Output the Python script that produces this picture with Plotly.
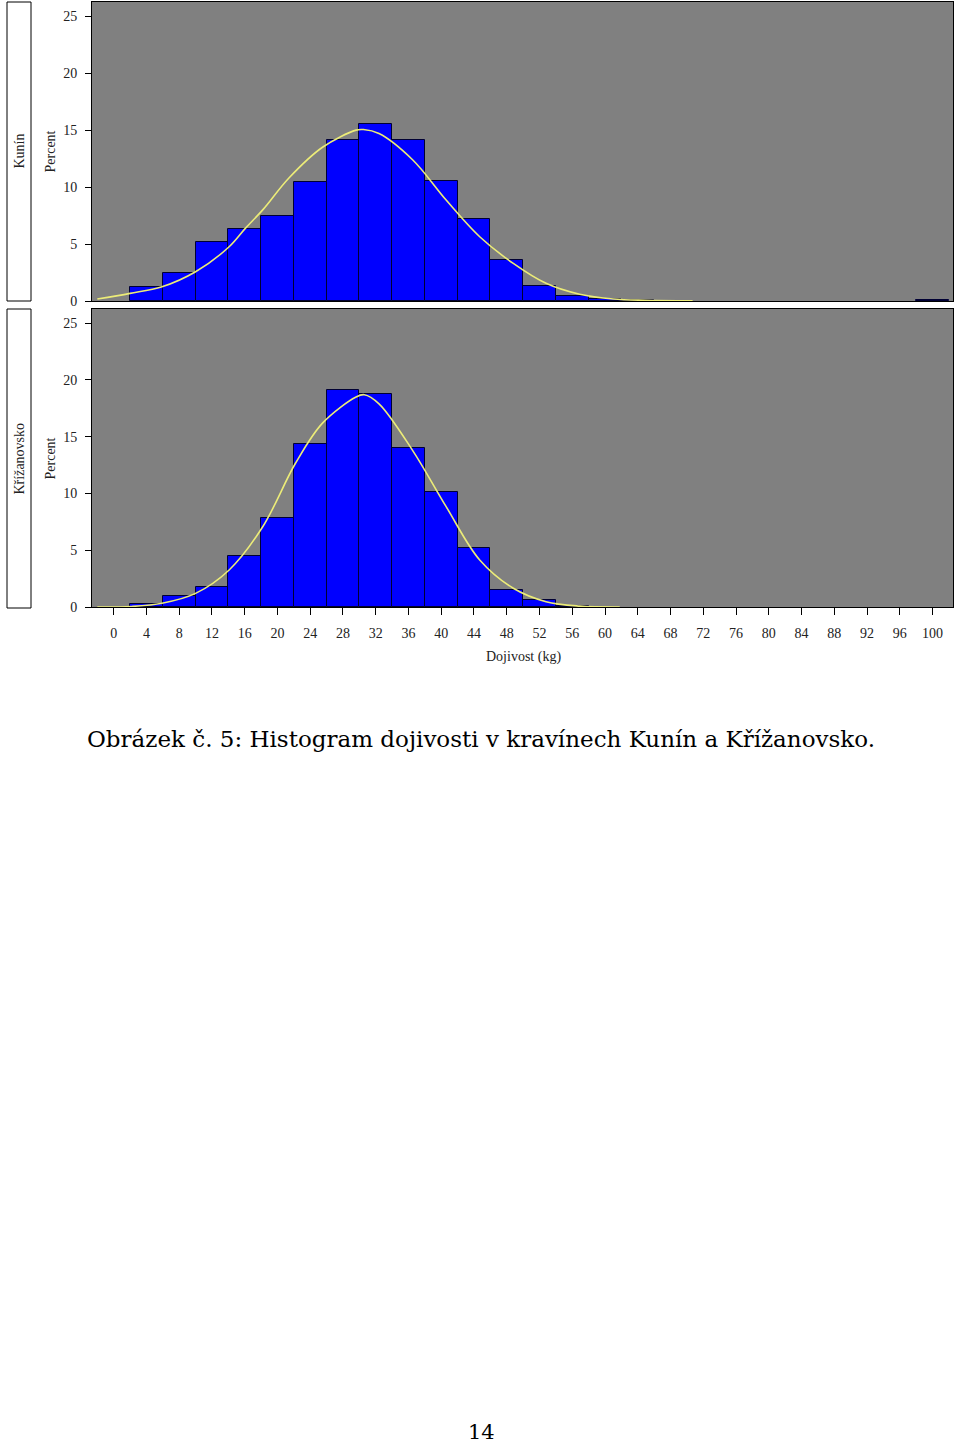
import plotly.graph_objects as go

# ---- data ----
bin_centers = [4, 8, 12, 16, 20, 24, 28, 32, 36, 40, 44, 48, 52, 56, 60, 64, 100]
kunin_pct = [1.2, 2.45, 5.2, 6.3, 7.45, 10.45, 14.1, 15.5, 14.1, 10.55, 7.2, 3.6, 1.35, 0.45, 0.2, 0.05, 0.1]

kriz_centers = [4, 8, 12, 16, 20, 24, 28, 32, 36, 40, 44, 48, 52, 56]
kriz_pct = [0.3, 1.0, 1.8, 4.45, 7.8, 14.35, 19.1, 18.8, 14.05, 10.1, 5.2, 1.5, 0.65, 0.05]

# fitted curves
kunin_curve_x = [-2.0, 2.0, 5.9, 10.0, 14.1, 16.1, 18.2, 21.4, 25.5, 29.6, 30.5, 32.4, 36.5, 40.6, 44.7, 48.8, 52.8, 56.9, 61.0, 65.0, 70.7]
kunin_curve_y = [0.17, 0.67, 1.25, 2.57, 4.76, 6.4, 8.0, 10.8, 13.5, 15.0, 15.05, 14.7, 12.4, 8.86, 5.64, 3.3, 1.55, 0.59, 0.17, 0.06, 0.02]

kriz_curve_x = [-2.0, 2.2, 5.9, 10.0, 14.1, 18.2, 22.2, 25.5, 29.6, 30.6, 32.4, 36.5, 40.6, 44.7, 48.8, 52.8, 56.9, 61.8]
kriz_curve_y = [0.0, 0.05, 0.33, 1.2, 3.26, 7.07, 12.66, 16.2, 18.5, 18.7, 17.9, 13.8, 8.84, 4.14, 1.65, 0.47, 0.08, 0.0]

x_ticks = list(range(0, 101, 4))
y_ticks = [0, 5, 10, 15, 20, 25]
strip_labels = ["Kunín", "Křížanovsko"]
x_title = "Dojivost (kg)"
y_title = "Percent"
caption = "Obrázek č. 5: Histogram dojivosti v kravínech Kunín a Křížanovsko."
page_no = "14"

W, H = 960, 1447
HS = 1439.0  # effective vertical scale observed in the rendered page
def py(pix):
    return 1 - pix / HS
def px(pix):
    return pix / W

serif = "Liberation Serif"
bar_color = "#0000ff"
bar_line = "#000033"
curve_color = "#ecec78"
bg = "#808080"
txt = "#222222"

fig = go.Figure()
fig.add_trace(go.Bar(x=bin_centers, y=kunin_pct, width=4, marker=dict(color=bar_color, line=dict(color=bar_line, width=1)),
                     xaxis="x", yaxis="y", showlegend=False))
fig.add_trace(go.Scatter(x=kunin_curve_x, y=kunin_curve_y, mode="lines", line=dict(color=curve_color, width=1.6, shape="spline"),
                         xaxis="x", yaxis="y", showlegend=False))
fig.add_trace(go.Bar(x=kriz_centers, y=kriz_pct, width=4, marker=dict(color=bar_color, line=dict(color=bar_line, width=1)),
                     xaxis="x2", yaxis="y2", showlegend=False))
fig.add_trace(go.Scatter(x=kriz_curve_x, y=kriz_curve_y, mode="lines", line=dict(color=curve_color, width=1.6, shape="spline"),
                         xaxis="x2", yaxis="y2", showlegend=False))

xdom = [px(92), px(953)]
xr = [-2.65, 102.5]
yr = [0, 26.25]
common_y = dict(range=yr, tickvals=y_ticks, ticks="outside", ticklen=6, tickcolor="black", ticklabelstandoff=5,
                showline=True, linecolor="black", linewidth=1, mirror=True, showgrid=False, zeroline=False,
                tickfont=dict(family=serif, size=14, color=txt), fixedrange=True)

fig.update_layout(
    width=W, height=H, margin=dict(l=0, r=0, t=0, b=0),
    paper_bgcolor="white", plot_bgcolor=bg, bargap=0,
    xaxis=dict(domain=xdom, range=xr, anchor="y", showticklabels=False, ticks="", showgrid=False, zeroline=False,
               showline=True, linecolor="black", linewidth=1, mirror=True),
    yaxis=dict(domain=[py(301), py(2)], anchor="x", **common_y),
    xaxis2=dict(domain=xdom, range=xr, anchor="y2", tickvals=x_ticks, ticks="outside", ticklen=7, tickcolor="black",
                ticklabelstandoff=6,
                showgrid=False, zeroline=False, showline=True, linecolor="black", linewidth=1, mirror=True,
                tickfont=dict(family=serif, size=14, color=txt)),
    yaxis2=dict(domain=[py(607), py(309)], anchor="x2", **common_y),
)

shapes = []
for (t, b) in [(2, 301), (309, 608)]:
    shapes.append(dict(type="rect", xref="paper", yref="paper", x0=px(7), x1=px(31), y0=py(b), y1=py(t),
                       line=dict(color="black", width=1), fillcolor="white"))
fig.update_layout(shapes=shapes)

ann = []
for lab, (t, b) in zip(strip_labels, [(2, 301), (309, 608)]):
    ann.append(dict(text=lab, xref="paper", yref="paper", x=px(19), y=py((t + b) / 2), showarrow=False,
                    textangle=-90, font=dict(family=serif, size=14, color=txt), xanchor="center", yanchor="middle"))
    ann.append(dict(text=y_title, xref="paper", yref="paper", x=px(50), y=py((t + b) / 2), showarrow=False,
                    textangle=-90, font=dict(family=serif, size=14, color=txt), xanchor="center", yanchor="middle"))
ann.append(dict(text=x_title, xref="paper", yref="paper", x=px(523), y=py(657), showarrow=False,
                font=dict(family=serif, size=14, color=txt), xanchor="center", yanchor="middle"))
ann.append(dict(text=caption, xref="paper", yref="paper", x=px(481), y=py(739), showarrow=False,
                font=dict(family="DejaVu Serif", size=23, color="black"), xanchor="center", yanchor="middle"))
ann.append(dict(text=page_no, xref="paper", yref="paper", x=px(481), y=py(1432), showarrow=False,
                font=dict(family="DejaVu Serif", size=21, color="black"), xanchor="center", yanchor="middle"))
fig.update_layout(annotations=ann)

fig.write_html("out.html", config={"displayModeBar": False},
               post_script="document.body.style.margin='0';document.body.style.overflow='hidden';")
